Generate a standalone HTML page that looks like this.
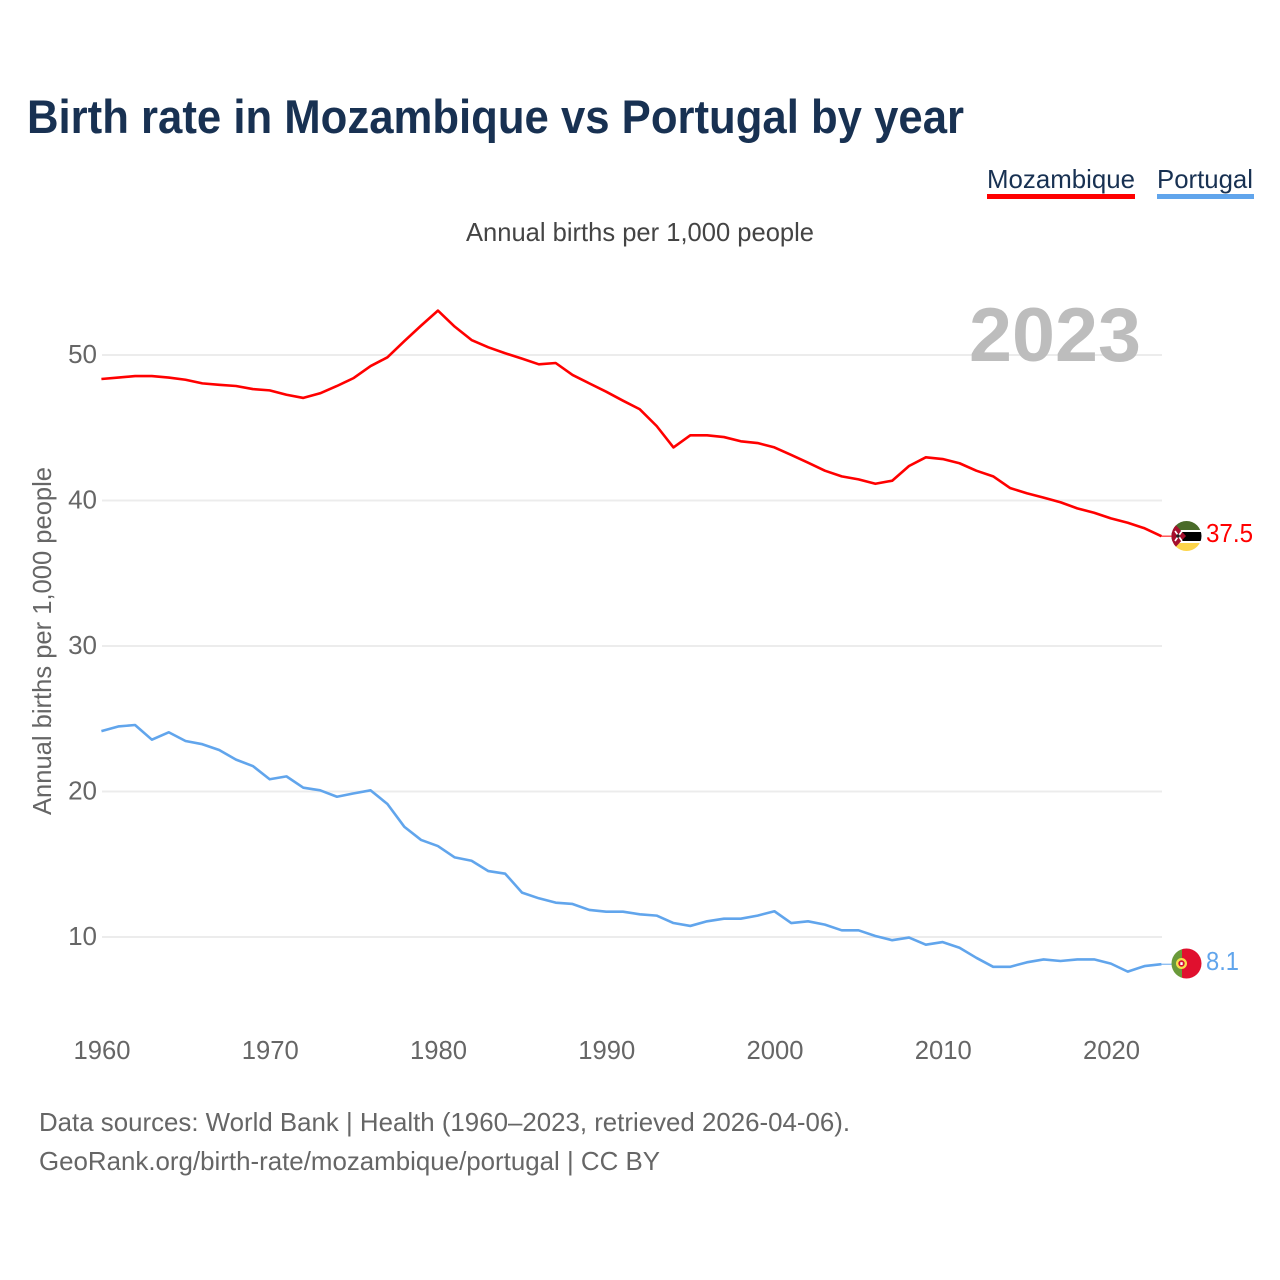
<!DOCTYPE html>
<html lang="en">
<head>
<meta charset="utf-8">
<title>Birth rate in Mozambique vs Portugal by year</title>
<style>
  html, body { margin: 0; padding: 0; background: #fff; }
  svg { display: block; font-family: "Liberation Sans", sans-serif; }
</style>
</head>
<body>
<svg id="chart" xmlns="http://www.w3.org/2000/svg" width="1280" height="1280" viewBox="0 0 1280 1280">
  <rect x="0" y="0" width="1280" height="1280" fill="#ffffff"/>
  <text x="27" y="133" font-size="47" font-weight="700" fill="#183152" textLength="937" lengthAdjust="spacingAndGlyphs">Birth rate in Mozambique vs Portugal by year</text>

  <g>
    <text x="987" y="188" font-size="26" fill="#183152" textLength="148" lengthAdjust="spacingAndGlyphs">Mozambique</text>
    <rect x="987" y="194" width="148" height="5" fill="#ff0000"/>
  </g>
  <g>
    <text x="1157" y="188" font-size="26" fill="#183152" textLength="96" lengthAdjust="spacingAndGlyphs">Portugal</text>
    <rect x="1157" y="194" width="97" height="5" fill="#61a5ec"/>
  </g>

  <text x="466" y="241" font-size="26" fill="#444444" textLength="348" lengthAdjust="spacingAndGlyphs">Annual births per 1,000 people</text>

  <g id="grid"></g>
  <g id="y-ticks"></g>
  <g id="x-ticks"></g>

  <text transform="translate(51 815) rotate(-90)" x="0" y="0" font-size="26" fill="#666666" textLength="348" lengthAdjust="spacingAndGlyphs">Annual births per 1,000 people</text>

  <text x="969" y="361" font-size="76" font-weight="700" fill="#bdbdbd" textLength="172" lengthAdjust="spacingAndGlyphs">2023</text>

  <g id="series"></g>

  <defs>
    <clipPath id="clip-moz"><circle cx="1186.5" cy="536" r="15"/></clipPath>
    <clipPath id="clip-por"><circle cx="1186.5" cy="963.5" r="15"/></clipPath>
  </defs>

  <g clip-path="url(#clip-moz)">
    <rect x="1170" y="519" width="34" height="11" fill="#4a6b2a"/>
    <rect x="1170" y="530" width="34" height="2" fill="#ffffff"/>
    <rect x="1170" y="532" width="34" height="9" fill="#000000"/>
    <rect x="1170" y="541" width="34" height="2" fill="#ffffff"/>
    <rect x="1170" y="543" width="34" height="10" fill="#fdd54a"/>
    <polygon points="1170,519 1186,536 1170,553" fill="#a50f2d"/>
    <path d="M1175 531 L1182 541 M1182 531 L1175 541" stroke="#ffffff" stroke-width="1.6"/>
    <circle cx="1178" cy="536" r="1.8" fill="#222222"/>
  </g>

  <g clip-path="url(#clip-por)">
    <rect x="1170" y="947" width="12" height="34" fill="#6a9a3a"/>
    <rect x="1182" y="947" width="22" height="34" fill="#e0102e"/>
    <circle cx="1181.5" cy="963.5" r="5.5" fill="#f7e04b"/>
    <circle cx="1181.5" cy="963.5" r="3.2" fill="#d21034"/>
    <rect x="1180.3" y="962.2" width="2.4" height="2.8" fill="#ffffff"/>
  </g>

  <g id="end-labels"></g>

  <text x="39" y="1131" font-size="26" fill="#666666" textLength="811" lengthAdjust="spacingAndGlyphs">Data sources: World Bank | Health (1960–2023, retrieved 2026-04-06).</text>
  <text x="39" y="1170" font-size="26" fill="#666666" textLength="621" lengthAdjust="spacingAndGlyphs">GeoRank.org/birth-rate/mozambique/portugal | CC BY</text>
</svg>

<script>
const startYear = 1960;
const xTickLabels = [1960, 1970, 1980, 1990, 2000, 2010, 2020];
const yTickLabels = [10, 20, 30, 40, 50];
const mozambiqueValues = [
  48.35, 48.45, 48.55, 48.55, 48.45, 48.3, 48.05, 47.95, 47.87, 47.66,
  47.57, 47.27, 47.05, 47.37, 47.87, 48.42, 49.24, 49.84, 50.95, 52.02,
  53.05, 51.95, 51.03, 50.53, 50.12, 49.75, 49.36, 49.45, 48.63, 48.05,
  47.48, 46.86, 46.27, 45.12, 43.65, 44.48, 44.48, 44.36, 44.07, 43.95,
  43.65, 43.13, 42.6, 42.05, 41.66, 41.45, 41.15, 41.36, 42.37, 42.97,
  42.85, 42.56, 42.05, 41.66, 40.86, 40.5, 40.2, 39.88, 39.46, 39.16,
  38.77, 38.47, 38.09, 37.55
];
const portugalValues = [
  24.15, 24.47, 24.57, 23.56, 24.07, 23.47, 23.25, 22.85, 22.19, 21.75,
  20.84, 21.04, 20.26, 20.08, 19.64, 19.87, 20.08, 19.14, 17.58, 16.67,
  16.25, 15.47, 15.24, 14.53, 14.35, 13.05, 12.66, 12.36, 12.27, 11.86,
  11.74, 11.74, 11.56, 11.47, 10.96, 10.76, 11.08, 11.26, 11.26, 11.47,
  11.77, 10.96, 11.08, 10.85, 10.46, 10.46, 10.07, 9.78, 9.96, 9.47,
  9.65, 9.26, 8.57, 7.95, 7.95, 8.26, 8.46, 8.35, 8.46, 8.46,
  8.17, 7.62, 8.0, 8.13
];
const mozambiqueEndLabel = "37.5";
const portugalEndLabel = "8.1";

const SVG_NS = "http://www.w3.org/2000/svg";
const plotLeft = 102;
const plotRight = 1162;
const lineShift = -0.6;
const yearSpan = 63;

function xScale(year) {
  return plotLeft + (year - startYear) * (plotRight - plotLeft) / yearSpan;
}
function yScale(value) {
  return 355 + (50 - value) * 14.55;
}
function make(tag, attrs) {
  const el = document.createElementNS(SVG_NS, tag);
  for (const key in attrs) {
    el.setAttribute(key, attrs[key]);
  }
  return el;
}
function pointsFor(values) {
  return values.map(function (v, i) {
    return (xScale(startYear + i) + lineShift).toFixed(2) + "," + yScale(v).toFixed(2);
  }).join(" ");
}

const grid = document.getElementById("grid");
const yTicks = document.getElementById("y-ticks");
yTickLabels.forEach(function (tick) {
  const line = make("line", { x1: plotLeft, x2: plotRight, y1: yScale(tick), y2: yScale(tick), stroke: "#ececec", "stroke-width": 2 });
  
  
  grid.appendChild(line);

  const label = make("text", { x: 97, y: yScale(tick) + 8, "font-size": 26, fill: "#666666", "text-anchor": "end" });
  
  
  label.textContent = tick;
  yTicks.appendChild(label);
});

const xTicks = document.getElementById("x-ticks");
xTickLabels.forEach(function (tick) {
  const label = make("text", { x: xScale(tick), y: 1059, "font-size": 26, fill: "#666666", "text-anchor": "middle", textLength: 57, lengthAdjust: "spacingAndGlyphs" });
  
  
  label.textContent = tick;
  xTicks.appendChild(label);
});

const seriesGroup = document.getElementById("series");

const mozLine = make("polyline", { points: pointsFor(mozambiqueValues), fill: "none", stroke: "#ff0000", "stroke-width": 2.6, "stroke-linejoin": "round" });


seriesGroup.appendChild(mozLine);

const porLine = make("polyline", { points: pointsFor(portugalValues), fill: "none", stroke: "#61a5ec", "stroke-width": 2.6, "stroke-linejoin": "round" });


seriesGroup.appendChild(porLine);

const mozLastY = yScale(mozambiqueValues[mozambiqueValues.length - 1]);
const porLastY = yScale(portugalValues[portugalValues.length - 1]);

const mozLeader = make("line", { x1: plotRight - 1, x2: plotRight + 12, y1: mozLastY, y2: mozLastY, stroke: "#ff0000", "stroke-width": 1 });


seriesGroup.appendChild(mozLeader);

const porLeader = make("line", { x1: plotRight - 1, x2: plotRight + 12, y1: porLastY, y2: porLastY, stroke: "#61a5ec", "stroke-width": 1 });


seriesGroup.appendChild(porLeader);

const endLabels = document.getElementById("end-labels");

const mozEnd = make("text", { x: 1206, y: mozLastY + 6, "font-size": 26, fill: "#ff0000", textLength: 47, lengthAdjust: "spacingAndGlyphs" });


mozEnd.textContent = mozambiqueEndLabel;
endLabels.appendChild(mozEnd);

const porEnd = make("text", { x: 1206, y: porLastY + 6, "font-size": 26, fill: "#61a5ec", textLength: 33, lengthAdjust: "spacingAndGlyphs" });


porEnd.textContent = portugalEndLabel;
endLabels.appendChild(porEnd);
</script>
</body>
</html>
